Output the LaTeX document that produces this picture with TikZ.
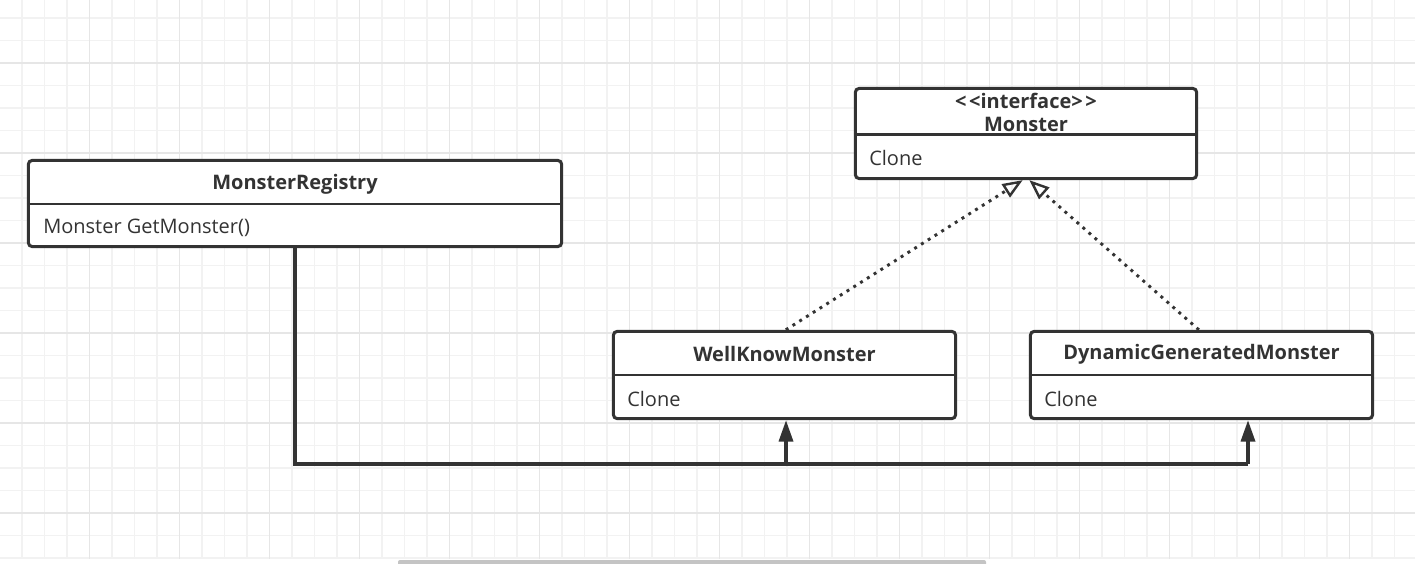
\documentclass[tikz,border=0pt]{standalone}
\usepackage{fontspec}
\newfontfamily\umlfont{Open Sans}
\usetikzlibrary{arrows.meta}
\definecolor{ink}{HTML}{333333}
\definecolor{gminor}{HTML}{F2F2F2}
\definecolor{gmajor}{HTML}{E6E6E6}
\definecolor{sbar}{HTML}{C4C4C4}
\tikzset{
  cls/.style={draw=ink, line width=2.3pt, rounded corners=3pt, fill=white, inner sep=0pt},
  divider/.style={draw=ink, line width=2.2pt},
  title/.style={font=\umlfont\fontsize{15}{17.25}\selectfont\bfseries, text=ink, inner sep=0pt, align=center},
  member/.style={font=\umlfont\fontsize{15}{17.25}\selectfont, text=ink, inner sep=0pt, anchor=west},
  conn/.style={draw=ink, line width=2.5pt},
  filledtip/.style={-{Triangle[length=16pt,width=10.5pt]}},
  realize/.style={draw=ink, line width=2.2pt, dash pattern=on 2.2pt off 3.8pt,
     -{Triangle[open,length=15pt,width=11.5pt,line width=1.8pt]}},
  minorgrid/.style={draw=gminor, line width=0.9pt},
  majorgrid/.style={draw=gmajor, line width=1pt}
}
\begin{document}
\begin{tikzpicture}[x=0.75pt, y=-0.75pt]
\useasboundingbox (0,0) rectangle (1415,564);
\fill[white] (0,0) rectangle (1415,564);
% grid
\foreach \i in {0,...,63} {\pgfmathsetmacro\gx{-0.5+22.5*\i}\draw[minorgrid] (\gx,0) -- (\gx,559);}
\foreach \i in {0,...,25} {\pgfmathsetmacro\gy{-4.5+22.5*\i}\draw[minorgrid] (0,\gy) -- (1415,\gy);}
\foreach \i in {0,...,15} {\pgfmathsetmacro\gx{-0.5+90*\i}\draw[majorgrid] (\gx,0) -- (\gx,559);}
\foreach \i in {0,...,5} {\pgfmathsetmacro\gy{63+90*\i}\draw[majorgrid] (0,\gy) -- (1415,\gy);}
% scrollbar
\fill[sbar, rounded corners=1.5pt] (398,560) rectangle (986,566);

% class boxes
\node[cls, minimum width=400pt, minimum height=64.7pt] (reg) at (295,203.5) {};
\node[cls, minimum width=256pt, minimum height=67.7pt] (mon) at (1026,133.5) {};
\node[cls, minimum width=256.7pt, minimum height=65.5pt] (wk) at (784.5,375) {};
\node[cls, minimum width=256.7pt, minimum height=65.5pt] (dyn) at (1201.5,375) {};

% dividers
\draw[divider] (reg.west |- 0,204) -- (reg.east |- 0,204);
\draw[divider] (mon.west |- 0,134.5) -- (mon.east |- 0,134.5);
\draw[divider] (wk.west |- 0,375) -- (wk.east |- 0,375);
\draw[divider] (dyn.west |- 0,375) -- (dyn.east |- 0,375);

% texts
\node[title] (regt) at (295,184) {MonsterRegistry};
\node[member] (regm) at (43,228) {Monster GetMonster()};
\node[title] (mont1) at (1026,101) {<\kern2pt<interface>\kern2pt>};
\node[title] (mont2) at (1026,124) {Monster};
\node[member] (monm) at (869,158) {Clone};
\node[title] (wkt) at (784.5,354) {WellKnowMonster};
\node[member] (wkm) at (627,399) {Clone};
\node[title] (dynt) at (1201.5,354) {DynamicGeneratedMonster};
\node[member] (dynm) at (1044,399) {Clone};

% realization (dotted, open triangle)
\draw[realize] ([xshift=1pt]wk.north) -- ([xshift=-2.5pt]mon.south);
\draw[realize] ([xshift=-2pt]dyn.north) -- ([xshift=2.5pt]mon.south);

% association lines
\coordinate (j1) at (786,464);
\coordinate (j2) at (1248,464);
\draw[conn] (reg.south) |- (j2);
\draw[conn, filledtip] (j1) -- (j1 |- wk.south);
\draw[conn, filledtip] (j2) -- (j2 |- dyn.south);
\end{tikzpicture}
\end{document}
